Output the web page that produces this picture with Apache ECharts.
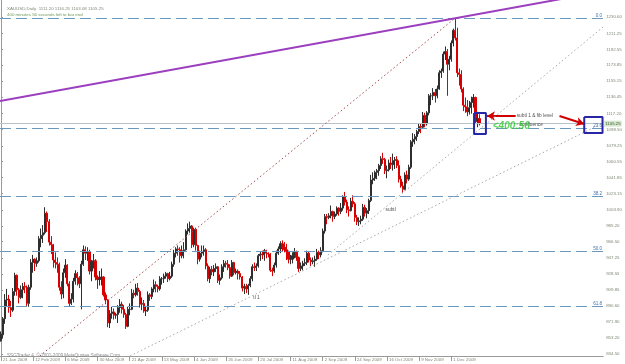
<!DOCTYPE html>
<html><head><meta charset="utf-8">
<script src="https://cdn.jsdelivr.net/npm/echarts@6/dist/echarts.min.js"></script>
<style>html,body{margin:0;padding:0;background:#fff}#c{width:625px;height:364px}</style>
</head><body><div id="c"></div><script>
// Daily XAUUSD bars from 21 Jan 2009, one per weekday: [open, high, low, close]
const candles = [
[850,861,849,858],[857,878,853,876],[876,905,870,898],
[898,911,890,899],[899,904,883,889],[889,897,878,886],[886,912,884,908],[908,930,903,927],
[927,928,903,910],[910,912,894,901],[901,915,899,910],[910,918,900,914],[914,919,906,913],
[913,915,891,894],[894,916,890,913],[913,946,910,942],[942,951,930,946],[946,947,932,941],
[941,948,937,944],[944,973,942,970],[970,982,960,974],[974,986,965,977],[977,1007,975,1000],
[1000,1002,978,990],[990,993,962,966],[966,973,952,963],[963,964,936,945],[945,954,935,942],
[942,948,930,940],[940,942,909,913],[913,920,899,905],[905,935,900,930],[930,946,924,939],
[939,940,914,917],[917,920,890,894],[894,906,892,899],[899,924,895,920],[920,933,916,929],
[929,931,915,924],[924,926,912,917],[917,944,887,940],[940,962,938,957],[957,961,945,953],
[953,960,944,955],[955,957,928,932],[932,945,920,943],[943,952,935,944],[944,946,921,925],
[925,927,911,922],[922,932,915,923],[923,935,915,925],[925,926,902,904],[904,907,893,898],
[898,899,866,871],[871,886,865,882],[882,890,876,884],[884,888,875,880],[880,883,876,881],
[881,892,871,889],[889,899,883,893],[893,896,882,887],[887,892,877,881],[881,883,864,867],
[867,890,866,887],[887,894,880,887],[887,911,886,906],[906,910,900,904],[904,917,902,912],
[912,918,903,908],[908,910,889,893],[893,901,886,894],[894,898,883,885],[885,891,879,886],
[886,908,884,904],[904,906,897,902],[902,913,899,911],[911,922,907,916],[916,920,907,914],
[914,916,907,911],[911,926,909,923],[923,925,916,923],[923,929,918,926],[926,931,923,929],
[929,930,919,923],[923,931,921,926],[926,943,924,940],[940,957,937,953],[953,960,948,958],
[958,962,950,957],[957,960,942,950],[950,962,947,956],[956,966,947,957],[957,981,956,979],
[979,988,975,982],[982,990,977,985],[985,986,959,963],[963,983,960,981],[981,983,956,962],
[962,963,940,946],[946,956,943,953],[953,962,948,955],[955,962,950,957],[957,959,934,938],
[938,941,920,923],[923,937,918,934],[934,938,927,931],[931,939,926,935],[935,941,931,937],
[937,938,918,921],[921,928,916,924],[924,940,922,937],[937,945,931,941],[941,944,936,940],
[940,945,933,936],[936,940,923,926],[926,945,925,942],[942,943,927,930],[930,935,928,932],
[932,934,922,929],[929,932,922,925],[925,926,908,912],[912,917,905,914],[914,917,906,911],
[911,917,904,915],[915,926,913,923],[923,940,920,937],[937,942,932,936],[936,941,932,938],
[938,952,936,950],[950,955,944,952],[952,956,946,951],[951,958,944,956],[956,957,947,953],
[953,954,948,952],[952,953,931,933],[933,936,926,932],[932,942,930,939],[939,956,936,953],
[953,961,951,958],[958,967,953,964],[964,968,955,960],[960,966,954,957],[957,964,945,955],
[955,956,941,946],[946,951,940,946],[946,954,941,950],[950,959,947,954],[954,956,944,948],
[948,949,931,935],[935,942,932,938],[938,944,933,941],[941,947,938,942],[942,956,939,953],
[953,955,942,945],[945,948,938,943],[943,948,940,944],[944,950,937,946],[946,958,944,954],
[954,956,946,951],[951,960,948,956],[956,982,954,979],[979,999,976,996],[996,999,987,995],
[995,1000,993,997],[997,1009,994,1002],[1002,1003,990,996],[996,1002,993,999],[999,1008,997,1006],
[1006,1007,997,1002],[1002,1012,999,1006],[1006,1021,1003,1019],[1019,1025,1009,1013],[1013,1016,1000,1004],
[1004,1008,996,1003],[1003,1018,1002,1014],[1014,1021,1007,1011],[1011,1013,990,995],[995,998,986,990],
[990,995,985,991],[991,997,987,993],[993,1011,991,1007],[1007,1010,996,1000],[1000,1006,994,1003],
[1003,1017,999,1015],[1015,1045,1013,1039],[1039,1048,1034,1041],[1041,1050,1038,1048],[1048,1052,1040,1050],
[1050,1058,1044,1056],[1056,1067,1052,1064],[1064,1071,1058,1063],[1063,1065,1046,1050],[1050,1056,1041,1051],
[1051,1063,1049,1059],[1059,1066,1052,1057],[1057,1070,1050,1062],[1062,1066,1052,1063],[1063,1067,1053,1056],
[1056,1062,1036,1040],[1040,1044,1030,1032],[1032,1037,1024,1028],[1028,1048,1027,1045],[1045,1050,1035,1040],
[1040,1057,1038,1054],[1054,1086,1052,1084],[1084,1094,1078,1087],[1087,1093,1081,1090],[1090,1098,1085,1096],
[1096,1105,1093,1102],[1102,1105,1094,1101],[1101,1119,1099,1115],[1115,1118,1101,1105],[1105,1120,1103,1118],
[1118,1140,1115,1138],[1138,1141,1127,1138],[1138,1147,1133,1142],[1142,1146,1130,1138],[1138,1150,1135,1146],
[1146,1168,1145,1165],[1165,1170,1159,1167],[1167,1190,1165,1187],[1187,1196,1180,1190],[1190,1193,1138,1175],
[1175,1185,1168,1181],[1181,1203,1178,1200],[1200,1217,1196,1215],[1215,1229,1203,1206],[1206,1218,1160,1165],
[1165,1170,1150,1163],[1163,1168,1142,1146],[1146,1148,1120,1127],[1127,1136,1118,1125],[1125,1133,1114,1119],
[1119,1132,1116,1124],[1124,1137,1117,1130],[1130,1140,1124,1136],[1136,1137,1105,1108],[1108,1119,1101,1111],
[1111.20,1116.25,1103.08,1105.25]
];
const totalSlots = 300;            // bars plus empty space to the right (chart shift)
const tickLabels = ['21 Jan 2009','12 Feb 2009','6 Mar 2009','30 Mar 2009','21 Apr 2009','13 May 2009','4 Jun 2009','26 Jun 2009','20 Jul 2009','11 Aug 2009','2 Sep 2009','24 Sep 2009','16 Oct 2009','9 Nov 2009','1 Dec 2009'];
const tickEvery = 16;
const priceTicks = [1230.60,1211.25,1192.55,1173.85,1155.15,1136.45,1117.20,1098.50,1079.25,1060.55,1041.85,1023.15,1003.90,985.20,966.50,947.25,928.55,909.85,890.60,871.90,853.20,834.50];
const fibNames = ['0.0','23.6','38.2','50.0','61.8'];
const fibPrices = [1229.5,1100.2,1020.2,955.6,890.9];
const bidPrice = 1105.25;
// drawn objects, as [bar index, price] anchor points
const purpleLine = [[-0.5,1131.9],[295,1258.8]];
const fiboDiagonal = [[19.3,832.2],[226,1229.5]];
const trendLine1 = [[64.2,832.2],[299.5,1106.0]];
const subTrendLine = [[162.6,950.9],[299.5,1218.9]];
const boxLast = [[235.3,1117.8],[241.2,1093.1]];
const boxFib = [[290.1,1113.1],[299.2,1094.3]];
const arrowLeft = [[256.0,1114.2],[241.7,1114.2]];
const arrowRight = [[277.8,1114.2],[290.1,1104.8]];
const notes = [
  [256.5,1114.8,'subtl 1 & fib level'],
  [258.0,1104.2,'confluence'],
  [191.3,1003.8,'subtl'],
  [125.5,900.3,'tl 1']
];
const timer = [244.6,1102.5,'<400:56'];
const titleLine1 = 'XAUUSD,Daily  1111.20 1116.25 1103.08 1105.25';
const titleLine2 = '400 minutes 56 seconds left to bar end';
const copyright = 'SSGTrader 4, \u00a9 2001-2009 MetaQuotes Software Corp.';

const FONT = 'Liberation Sans';
const cats = [];
for (let i = 0; i < totalSlots; i++) {
  cats.push(i % tickEvery === 0 && i / tickEvery < tickLabels.length ? tickLabels[i / tickEvery] : '');
}
const showTick = (i) => i % tickEvery === 0 && i / tickEvery < tickLabels.length;
const kData = candles.map(b => [b[0], b[3], b[2], b[1]]);
const rect = (b) => [[b[0][0],b[0][1]],[b[1][0],b[0][1]],[b[1][0],b[1][1]],[b[0][0],b[1][1]],[b[0][0],b[0][1]]];
const lineSeries = (data, color, width, type) => ({
  type: 'line', xAxisIndex: 1, data: data, symbol: 'none', silent: true, clip: true,
  lineStyle: { color: color, width: width, type: type }, z: 5
});
const arrowSeries = (pts) => ({
  type: 'line', xAxisIndex: 1, data: [], silent: true,
  markLine: {
    silent: true, symbol: ['none', 'arrow'], symbolSize: [7, 8],
    lineStyle: { color: '#d00000', width: 2, type: 'solid' }, label: { show: false },
    data: [[{ coord: pts[0] }, { coord: pts[1] }]]
  }, z: 6
});

const chart = echarts.init(document.getElementById('c'), null, { renderer: 'canvas' });
chart.setOption({
  animation: false,
  backgroundColor: '#ffffff',
  title: [
    { text: titleLine1, left: 2, top: 2, textStyle: { fontFamily: FONT, fontSize: 4.4, fontWeight: 'normal', color: '#808a78' } },
    { text: titleLine2, left: 2, top: 8, textStyle: { fontFamily: FONT, fontSize: 4.4, fontWeight: 'normal', color: '#6f9a58' } },
    { text: copyright, left: 2, top: 348, textStyle: { fontFamily: FONT, fontSize: 4.6, fontWeight: 'normal', color: '#8c8c8c' } }
  ],
  grid: { left: 0, right: 18, top: 0, bottom: 8, containLabel: false },
  xAxis: [
    { type: 'category', data: cats, boundaryGap: true,
      axisLine: { show: true, lineStyle: { color: '#9a9a9a', width: 1 } },
      axisTick: { show: true, interval: showTick, alignWithLabel: true, length: 5, inside: false, lineStyle: { color: '#9a9a9a' } },
      axisLabel: { show: true, interval: showTick, align: 'left', margin: 2, padding: [0,0,0,2], fontFamily: FONT, fontSize: 4.4, color: '#7f8a74', hideOverlap: false },
      splitLine: { show: false } },
    { type: 'value', min: -0.5, max: totalSlots - 0.5, show: false }
  ],
  yAxis: { type: 'value', position: 'right', min: 832.15, max: 1250.58, scale: true,
    axisLine: { show: true, lineStyle: { color: '#9a9a9a', width: 1 } },
    axisTick: { show: true, customValues: priceTicks, length: 2, lineStyle: { color: '#9a9a9a' } },
    axisLabel: { show: true, customValues: priceTicks, margin: 3, fontFamily: FONT, fontSize: 4.4, color: '#7f8a74', formatter: v => v.toFixed(2) },
    splitLine: { show: false } },
  series: [
    { type: 'candlestick', data: kData, barWidth: 1.6, z: 3,
      itemStyle: { color: '#2e2e2e', color0: '#d80000', borderColor: '#2e2e2e', borderColor0: '#d80000', borderWidth: 1 },
      markLine: {
        silent: true, symbol: 'none', animation: false,
        data: fibPrices.map((p, i) => ({ yAxis: p, name: fibNames[i],
          lineStyle: { color: '#6a98bf', width: 1, type: [11, 5] },
          label: { show: true, position: 'insideEndTop', distance: [1, 0], formatter: fibNames[i], fontFamily: FONT, fontSize: 4.6, color: '#3f73b0', textBorderWidth: 0 } }))
          .concat([{ yAxis: bidPrice, lineStyle: { color: '#b8c2cc', width: 1, type: 'solid' },
            label: { show: true, position: 'end', distance: 1, formatter: bidPrice.toFixed(2), fontFamily: FONT, fontSize: 4.4, color: '#3d5f32', backgroundColor: '#d7e8cf', padding: [1, 1] } }])
      }
    },
    lineSeries(purpleLine, '#9b3fbf', 2, 'solid'),
    lineSeries(fiboDiagonal, '#a24a4a', 1, [1.5, 2.5]),
    lineSeries(trendLine1, '#a8a8a8', 1, [1.5, 2.5]),
    lineSeries(subTrendLine, '#a8a8a8', 1, [1.5, 2.5]),
    lineSeries(rect(boxLast), '#2626a6', 2, 'solid'),
    lineSeries(rect(boxFib), '#2626a6', 2, 'solid'),
    arrowSeries(arrowLeft),
    arrowSeries(arrowRight),
    { type: 'scatter', xAxisIndex: 1, symbolSize: 0, silent: true, z: 7,
      data: notes.map(n => ({ value: [n[0], n[1]], name: n[2] })),
      label: { show: true, position: 'right', distance: 0, formatter: p => p.name, fontFamily: FONT, fontSize: 4.8, color: '#222222' } },
    { type: 'scatter', xAxisIndex: 1, symbolSize: 0, silent: true, z: 7,
      data: [{ value: [timer[0], timer[1]], name: timer[2] }],
      label: { show: true, position: 'right', distance: 0, formatter: p => p.name, fontFamily: FONT, fontSize: 10, fontWeight: 'bold', fontStyle: 'italic', color: '#2fc82f' } }
  ]
});
</script></body></html>
